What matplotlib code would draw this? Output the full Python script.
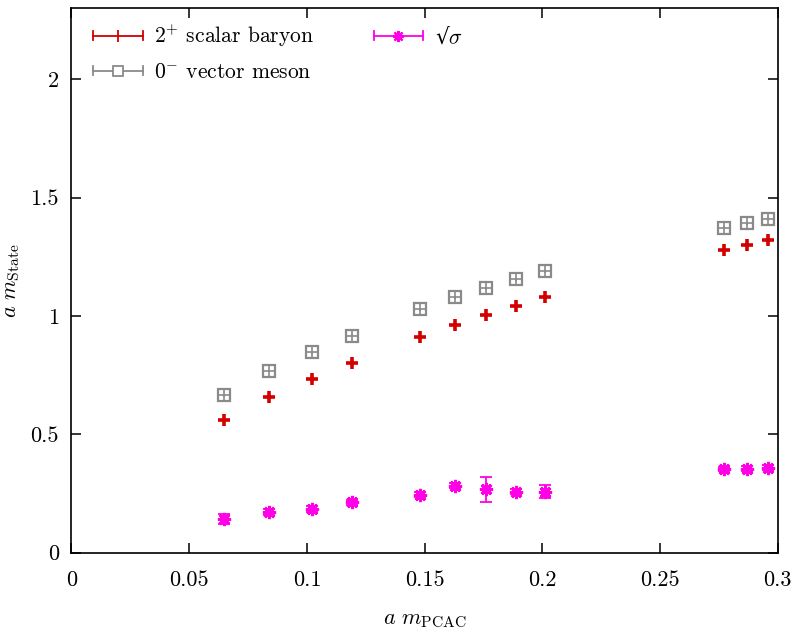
import matplotlib
matplotlib.use("Agg")
import matplotlib.pyplot as plt
from matplotlib.legend_handler import HandlerBase
from matplotlib.lines import Line2D

plt.rcParams["font.family"] = ["cmr10", "DejaVu Serif"]
plt.rcParams["mathtext.fontset"] = "cm"
plt.rcParams["axes.formatter.use_mathtext"] = True

# quark mass values shared by all three channels
m_pcac = [0.065, 0.084, 0.102, 0.119, 0.148, 0.163, 0.176, 0.189, 0.201,
          0.277, 0.287, 0.296]

baryon = [0.561, 0.657, 0.733, 0.802, 0.911, 0.962, 1.002, 1.041, 1.078,
          1.277, 1.300, 1.320]
baryon_err = [0.008, 0.008, 0.008, 0.008, 0.008, 0.008, 0.010, 0.008, 0.008,
              0.010, 0.010, 0.012]

meson = [0.664, 0.767, 0.847, 0.917, 1.027, 1.079, 1.116, 1.154, 1.188,
         1.372, 1.392, 1.410]
meson_err = [0.006, 0.006, 0.006, 0.006, 0.006, 0.006, 0.006, 0.006, 0.006,
             0.006, 0.006, 0.006]

sigma = [0.142, 0.172, 0.184, 0.212, 0.244, 0.282, 0.267, 0.257, 0.257,
         0.353, 0.355, 0.359]
sigma_err = [0.021, 0.012, 0.012, 0.012, 0.010, 0.010, 0.053, 0.010, 0.028,
             0.010, 0.010, 0.010]

xticks = [0, 0.05, 0.1, 0.15, 0.2, 0.25, 0.3]
xtick_labels = ["0", "0.05", "0.1", "0.15", "0.2", "0.25", "0.3"]
yticks = [0, 0.5, 1, 1.5, 2]
ytick_labels = ["0", "0.5", "1", "1.5", "2"]

RED = "#d40000"
GRAY = "#8a8a8a"
MAGENTA = "#ff00e6"
STAR = (8, 2, 0)


class KeyHandler(HandlerBase):
    """gnuplot style key: horizontal bar with end caps and the point in the middle"""

    def create_artists(self, legend, orig, xd, yd, w, h, fontsize, trans):
        y = h / 2 - yd
        x0, x1 = -xd, -xd + w
        c = orig.get_color()
        arts = [Line2D([x0, x1], [y, y], color=c, lw=1.3)]
        for xc in (x0, x1):
            arts.append(Line2D([xc, xc], [y - 0.3 * h, y + 0.3 * h],
                               color=c, lw=1.3))
        arts.append(Line2D([(x0 + x1) / 2], [y], marker=orig.get_marker(),
                           ms=orig.get_markersize(), mec=c, mfc="white",
                           mew=orig.get_markeredgewidth(), ls="none"))
        for a in arts:
            a.set_transform(trans)
        return arts


fig = plt.figure(figsize=(7.96, 6.34), dpi=100)
ax = fig.add_axes([0.0898, 0.1285, 0.8872, 0.8585])

ax.errorbar(m_pcac, baryon, yerr=baryon_err, fmt="+", color=RED, ms=9,
            mew=2.6, elinewidth=1.2, capsize=0, zorder=3)
ax.errorbar(m_pcac, meson, yerr=meson_err, fmt="s", color=GRAY, mfc="none",
            ms=8, mew=1.6, elinewidth=1.2, capsize=0, zorder=3)
ax.plot(m_pcac, meson, "+", color=GRAY, ms=8, mew=1.2, zorder=3)
ax.errorbar(m_pcac, sigma, yerr=sigma_err, fmt="none", ecolor=MAGENTA,
            elinewidth=1.3, capsize=4, capthick=1.3, zorder=3)
ax.plot(m_pcac, sigma, ls="none", marker=STAR, color=MAGENTA, ms=9.5,
        mew=2.2, zorder=4)

handles = [Line2D([], [], color=RED, marker="|", ms=8, mew=1.3),
           Line2D([], [], color=GRAY, marker="s", ms=7, mew=1.3),
           Line2D([], [], color=MAGENTA, marker=STAR, ms=8, mew=1.6)]
labels = [r"$2^{+}$ scalar baryon", r"$0^{-}$ vector meson",
          "\u221a" + r"$\sigma$"]
leg = ax.legend(handles, labels, ncol=2, loc="upper left", frameon=False,
                fontsize=15.5, handlelength=2.3, handletextpad=0.55,
                columnspacing=2.75, labelspacing=0.62,
                bbox_to_anchor=(0.0, 1.012), borderaxespad=0.6,
                handler_map={Line2D: KeyHandler()})
# cmr10 has no radical sign, take it from DejaVu Serif
leg.get_texts()[2].set_fontfamily("DejaVu Serif")

ax.set_xlim(0, 0.3)
ax.set_ylim(0, 2.3)
ax.set_xticks(xticks)
ax.set_xticklabels(xtick_labels)
ax.set_yticks(yticks)
ax.set_yticklabels(ytick_labels)
ax.tick_params(direction="in", length=7, width=1.1, top=True, right=True,
               labelsize=16)
ax.tick_params(axis="x", pad=13)
ax.tick_params(axis="y", pad=9)
for s in ax.spines.values():
    s.set_linewidth(1.2)

ax.set_xlabel(r"$a\ m_{\rm PCAC}$", fontsize=16, labelpad=15)
ax.set_ylabel(r"$a\ m_{\rm State}$", fontsize=16, labelpad=6)

fig.savefig("out.png", dpi=100)
